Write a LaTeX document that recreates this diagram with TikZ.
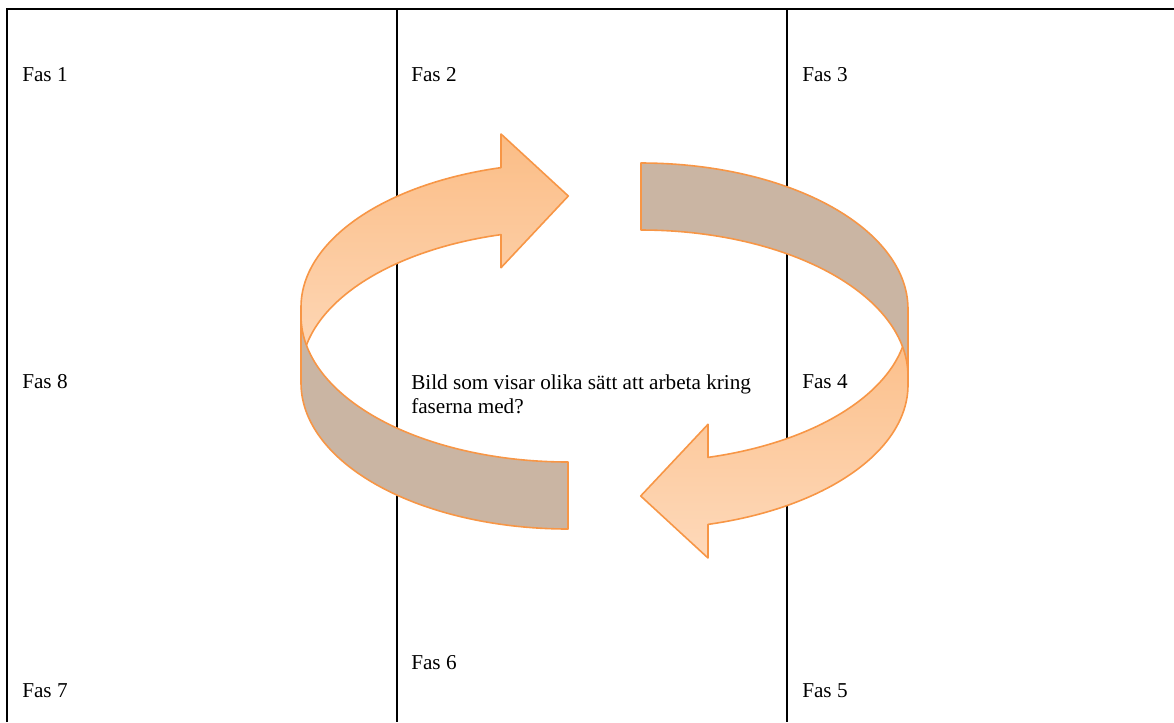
\documentclass[tikz,border=0pt]{standalone}
\usepackage{fontspec}
\setmainfont{Liberation Serif}
\definecolor{arrowline}{RGB}{247,150,70}
\definecolor{orangetop}{RGB}{251,189,134}
\definecolor{orangebot}{RGB}{254,217,186}
\definecolor{brownfill}{RGB}{202,181,163}
\newcommand\ribbonarrow{%
  % light (inner side) band with arrow head
  \draw[light]
    plot[domain=104.53:180, samples=60, variable=\t] ({568+267*cos(\t)},{307-144*sin(\t)})
    -- plot[domain=180:104.53, samples=60, variable=\t] ({568+267*cos(\t)},{374-144*sin(\t)})
    -- (501,267.7) -- (568.3,196) -- (501,134) -- cycle;
  % dark (outer side) band
  \draw[dark]
    plot[domain=180:270, samples=60, variable=\t] ({568+267*cos(\t)},{316-146*sin(\t)})
    -- (568,529)
    -- plot[domain=270:180, samples=60, variable=\t] ({568+267*cos(\t)},{383-146*sin(\t)})
    -- cycle;
}
\begin{document}
\begin{tikzpicture}[x=0.75pt,y=-0.75pt,
  tbl/.style={line width=1.5pt, draw=black},
  lbl/.style={anchor=base west, inner sep=0pt, font=\fontsize{15.9}{18}\selectfont},
  band/.style={draw=arrowline, line width=1.2pt, line join=round},
  light/.style={band, top color=orangetop, bottom color=orangebot},
  dark/.style={band, fill=brownfill}]
\useasboundingbox (0,0) rectangle (1174,722);
% table grid
\coordinate (bl) at (7,722);
\coordinate (tlc) at (7,9);
\coordinate (trc) at (1174,9);
\coordinate (c1t) at (397,9);
\coordinate (c1b) at (397,722);
\coordinate (c2t) at (787,9);
\coordinate (c2b) at (787,722);
\draw[tbl] (bl) -- (tlc) -- (trc);
\draw[tbl] (c1t) -- (c1b);
\draw[tbl] (c2t) -- (c2b);
% labels
\node[lbl] (f1) at (22,81) {Fas 1};
\node[lbl] (f2) at (411,81) {Fas 2};
\node[lbl] (f3) at (802,81) {Fas 3};
\node[lbl] (f8) at (22,388) {Fas 8};
\node[lbl] (f4) at (802,388) {Fas 4};
\node[lbl] (f6) at (411,669) {Fas 6};
\node[lbl] (f7) at (22,697) {Fas 7};
\node[lbl] (f5) at (802,697) {Fas 5};
\node[lbl, align=left] (bild) at (411,413) {Bild som visar olika sätt att arbeta kring\\faserna med?};
% arrows
\begin{scope}
\ribbonarrow
\end{scope}
\begin{scope}[rotate around={180:(604.5,346)}]
\ribbonarrow
\end{scope}
\end{tikzpicture}
\end{document}
